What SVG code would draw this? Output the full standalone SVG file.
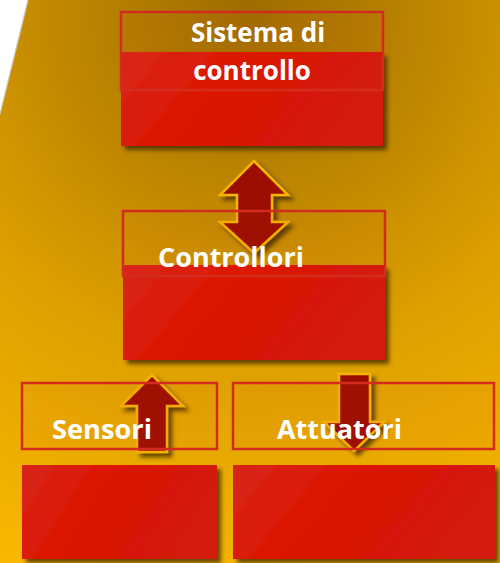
<svg xmlns="http://www.w3.org/2000/svg" width="500" height="563" viewBox="0 0 500 563">
  <defs>
    <radialGradient id="bg" gradientUnits="userSpaceOnUse" cx="250" cy="10" r="620">
      <stop offset="0" stop-color="#9e6c00"/>
      <stop offset="0.25" stop-color="#b98200"/>
      <stop offset="0.55" stop-color="#dc9f00"/>
      <stop offset="1" stop-color="#fbb900"/>
    </radialGradient>
    <linearGradient id="redfill" x1="0" y1="0" x2="1" y2="0.3">
      <stop offset="0" stop-color="#d8251a"/>
      <stop offset="0.4" stop-color="#dc1702"/>
      <stop offset="1" stop-color="#d31a0a"/>
    </linearGradient>
    <filter id="shadow" x="-10%" y="-10%" width="130%" height="130%">
      <feGaussianBlur in="SourceAlpha" stdDeviation="2"/>
      <feOffset dx="4" dy="4" result="off"/>
      <feFlood flood-color="#3a2400" flood-opacity="0.75"/>
      <feComposite in2="off" operator="in"/>
      <feMerge>
        <feMergeNode/>
        <feMergeNode in="SourceGraphic"/>
      </feMerge>
    </filter>
  </defs>
  <style>
    .block { fill: url(#redfill); filter: url(#shadow); }
    .frame { fill: #e04020; fill-opacity: 0.06; stroke: #d42c1c; stroke-width: 2.5; }
    .label { font-family: "Open Sans", "Noto Sans", "DejaVu Sans", sans-serif; font-weight: bold; font-size: 26px; fill: #ffffff; }
    .arrow { fill: #9a0e00; stroke: #f5b400; stroke-width: 2.5; stroke-linejoin: miter; filter: url(#shadow); }
  </style>

  <!-- background -->
  <rect x="0" y="0" width="500" height="563" fill="url(#bg)"/>
  <polygon points="0,0 28,0 0,114" fill="#ffffff"/>
  <line x1="28" y1="0" x2="0" y2="114" stroke="#c8c8c8" stroke-width="1.2"/>

  <!-- node blocks -->
  <g id="sistema">
    <rect class="block" x="121" y="52" width="262" height="94"/>
    <rect class="frame" x="121" y="12" width="262" height="78"/>
    <text class="label" x="258" y="42" text-anchor="middle">Sistema di</text>
    <text class="label" x="252" y="80" text-anchor="middle">controllo</text>
  </g>

  <g id="controllori">
    <rect class="block" x="123" y="265" width="262" height="95"/>
  </g>

  <g id="sensori">
    <rect class="block" x="22" y="465" width="195" height="94"/>
  </g>

  <g id="attuatori">
    <rect class="block" x="233" y="465" width="262" height="94"/>
  </g>

  <!-- connectors -->
  <g id="connectors">
    <polygon class="arrow" points="254,161 288,195 272,195 272,222 288,222 254,253 220,222 237,222 237,195 220,195"/>
    <polygon class="arrow" points="152,375 183,406 167,406 167,452 137,452 137,406 121,406"/>
    <polygon class="arrow" points="339,374 370,374 370,422 384,422 354,451 324,422 339,422"/>
  </g>

  <!-- frames and labels drawn over the connectors -->
  <g id="controllori-label">
    <rect class="frame" x="123" y="211" width="262" height="65"/>
    <text class="label" x="158" y="267" textLength="146" lengthAdjust="spacingAndGlyphs">Controllori</text>
  </g>
  <g id="sensori-label">
    <rect class="frame" x="22" y="383" width="195" height="66"/>
    <text class="label" x="52" y="439" textLength="100" lengthAdjust="spacingAndGlyphs">Sensori</text>
  </g>
  <g id="attuatori-label">
    <rect class="frame" x="233" y="383" width="261" height="66"/>
    <text class="label" x="277" y="439" textLength="125" lengthAdjust="spacingAndGlyphs">Attuatori</text>
  </g>
</svg>
